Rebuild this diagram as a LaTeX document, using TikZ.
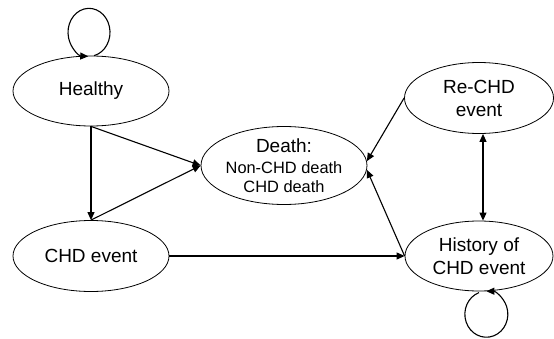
\documentclass[tikz,border=0pt]{standalone}
\usepackage{fontspec}
\setmainfont{Liberation Sans}
\usetikzlibrary{shapes.geometric,arrows.meta,calc}
\begin{document}
\begin{tikzpicture}[x=1pt,y=1pt,
  state/.style={draw, ellipse, line width=0.8pt, inner sep=-4pt, align=center, font=\fontsize{19}{23}\selectfont},
  arr/.style={line width=1.1pt, -{Triangle[length=8pt,width=7pt]}},
  darr/.style={line width=1.1pt, {Triangle[length=8pt,width=7pt]}-{Triangle[length=8pt,width=7pt]}}]
\useasboundingbox[fill=white] (0,0) rectangle (554,338);
\node[state, minimum width=156pt, minimum height=70pt] (h) at (91,247) {Healthy};
\node[state, minimum width=156pt, minimum height=71pt] (c) at (91,82) {CHD event};
\node[state, minimum width=166pt, minimum height=78pt, font=\fontsize{16.4}{19}\selectfont] (d) at (284,172.5) {{\fontsize{19}{19}\selectfont Death:}\\[1.5pt]Non-CHD death\\CHD death};
\node[state, minimum width=149pt, minimum height=71pt] (r) at (479,240) {Re-CHD\\event};
\node[state, minimum width=148pt, minimum height=70pt] (hist) at (479,82) {History of\\CHD event};
% self-loops
\draw[arr] (h.85) arc[start angle=-76, end angle=268, x radius=21, y radius=24];
\draw[arr] ([yshift=-1.2pt]hist.south) arc[start angle=110, end angle=450, x radius=21.5, y radius=23];
% transitions
\draw[arr] (h.south) -- (c.north);
\draw[arr] (h.south) -- (d.west);
\draw[arr] (c.north) -- (d.west);
\draw[arr] (c.east) -- (hist.west);
\draw[arr] (r.west) -- (d.3);
\draw[arr] (hist.west) -- (d.-3);
\draw[darr] ([xshift=4pt]r.south) -- ([xshift=4pt]hist.north);
\end{tikzpicture}
\end{document}
